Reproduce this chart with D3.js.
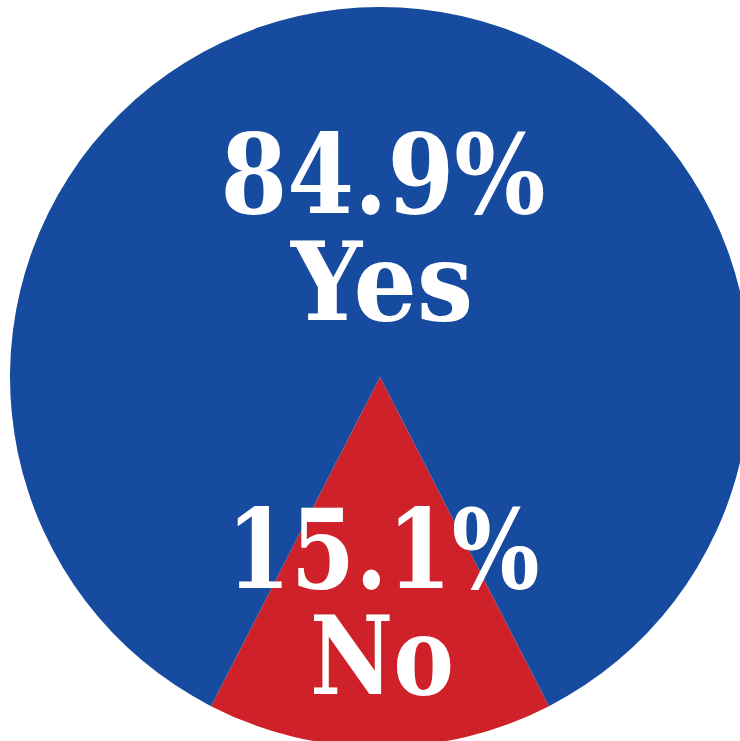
<html>
<head>
    <script src="https://d3js.org/d3.v7.min.js"></script>
    <style>
        body { margin: 0; background: #fff; }
    </style>
</head>
<body>
    <svg id="chart"></svg>
    <script>
        var labels = ["No", "Yes"];
        var values = [15.1, 84.9];
        var valueText = ["15.1%", "84.9%"];
        var colors = ["#cf2129", "#164b9f"];

        var W = 740, H = 741;
        var cx = 380, cy = 377, R = 370;

        var svg = d3.select("#chart").attr("width", W).attr("height", H);
        var g = svg.append("g").attr("transform", "translate(" + cx + "," + cy + ")");

        var share = values[0] / d3.sum(values);
        var start = Math.PI - share * Math.PI;
        var pie = d3.pie().sort(null).startAngle(start).endAngle(start + 2 * Math.PI);
        var arc = d3.arc().innerRadius(0).outerRadius(R);

        g.selectAll("path")
            .data(pie(values))
            .enter()
            .append("path")
            .attr("d", arc)
            .attr("fill", function(d, i){ return colors[i]; });

        // label positions: [value baseline, label baseline, value width, label width]
        var layout = [
            { vy: 588 - cy, ly: 694 - cy, vw: 313, lw: 144 },
            { vy: 213 - cy, ly: 320 - cy, vw: 325, lw: 182 }
        ];

        var font = "'DejaVu Serif', serif";
        labels.forEach(function(lab, i)
        {
            var L = layout[i];
            g.append("text")
                .attr("x", 3).attr("y", L.vy)
                .attr("text-anchor", "middle")
                .attr("font-family", font).attr("font-weight", "bold")
                .attr("font-size", 110)
                .attr("textLength", L.vw).attr("lengthAdjust", "spacingAndGlyphs")
                .attr("fill", "#fff")
                .text(valueText[i]);
            g.append("text")
                .attr("x", 2).attr("y", L.ly)
                .attr("text-anchor", "middle")
                .attr("font-family", font).attr("font-weight", "bold")
                .attr("font-size", 108)
                .attr("textLength", L.lw).attr("lengthAdjust", "spacingAndGlyphs")
                .attr("fill", "#fff")
                .text(lab);
        });
    </script>
</body>
</html>
